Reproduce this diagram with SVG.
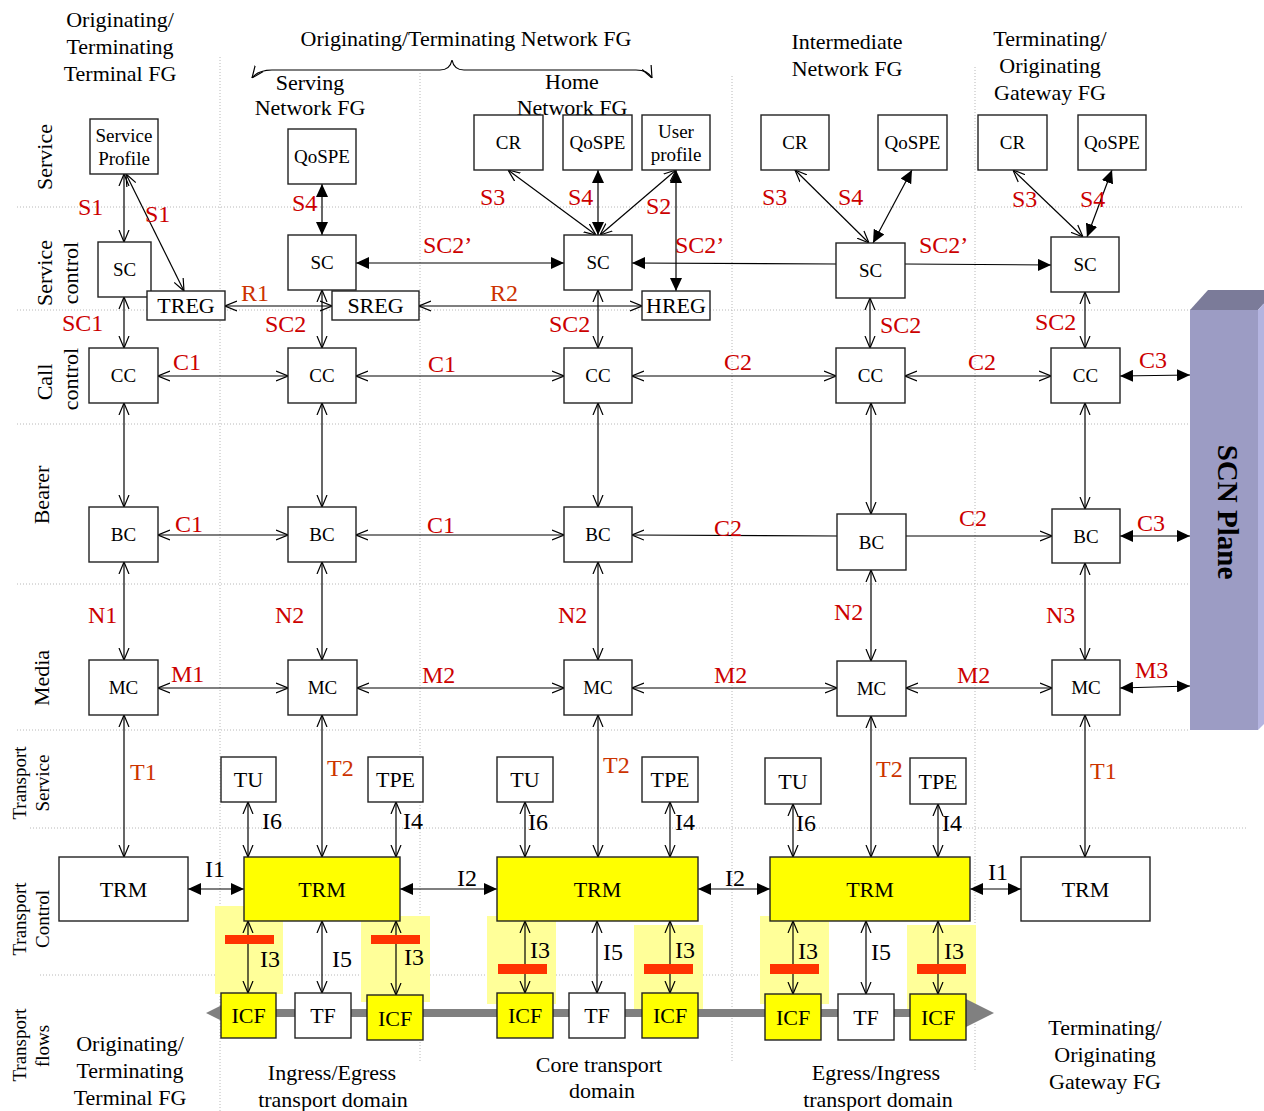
<svg xmlns="http://www.w3.org/2000/svg" width="1264" height="1111" viewBox="0 0 1264 1111">
<defs>
<marker id="o" viewBox="0 0 12 12" refX="12" refY="6" markerWidth="12" markerHeight="12" markerUnits="userSpaceOnUse" orient="auto-start-reverse"><path d="M0,1 L12,6 L0,11" fill="none" stroke="#000" stroke-width="1.2"/></marker>
<marker id="f" viewBox="0 0 13 12" refX="13" refY="6" markerWidth="13" markerHeight="12" markerUnits="userSpaceOnUse" orient="auto-start-reverse"><path d="M0,0 L13,6 L0,12 Z" fill="#000"/></marker>
</defs>
<style>
text{font-family:"Liberation Serif","Times New Roman",serif;fill:#000}
.grid line{stroke:#b8b8b8;stroke-width:1;stroke-dasharray:1,2}
.box{fill:#fff;stroke:#222;stroke-width:1.4}
.ybox{fill:#ffff00;stroke:#222;stroke-width:1.4}
.n{font-size:19px;text-anchor:middle}
.m{font-size:22px;text-anchor:middle}
.h{font-size:22px;text-anchor:middle}
.row{font-size:22px;text-anchor:middle}
.trow{font-size:19px;text-anchor:middle}
.lbl{font-size:24px;fill:#cc0000}
.org{font-size:24px;fill:#cc3300}
.il{font-size:24px}
.c line,.c path{stroke:#000;stroke-width:1.2;fill:none}
.oo{marker-start:url(#o);marker-end:url(#o)}
.ff{marker-start:url(#f);marker-end:url(#f)}
.oe{marker-end:url(#o)}
.fe{marker-end:url(#f)}
.hl{fill:#ffff99}
.rb{fill:#ff3300}
</style>
<rect width="1264" height="1111" fill="#fff"/>

<g class="grid">
<line x1="17" y1="207" x2="1243" y2="207"/>
<line x1="17" y1="310" x2="1243" y2="310"/>
<line x1="17" y1="424" x2="1190" y2="424"/>
<line x1="17" y1="584" x2="1190" y2="584"/>
<line x1="17" y1="730" x2="1190" y2="730"/>
<line x1="30" y1="828" x2="1247" y2="828"/>
<line x1="40" y1="975" x2="778" y2="975"/>
<line x1="220" y1="57" x2="220" y2="1111"/>
<line x1="420" y1="73" x2="420" y2="1062"/>
<line x1="732" y1="76" x2="732" y2="1062"/>
<line x1="975" y1="67" x2="975" y2="1072"/>
</g>

<g id="scn-plane">
<polygon points="1190,310 1208,290 1276,290 1258,310" fill="#7b7b99"/>
<polygon points="1258,310 1276,290 1276,712 1258,730" fill="#b4b4e0"/>
<rect x="1190" y="310" width="68" height="420" fill="#9c9cc4"/>
<text transform="translate(1218,512) rotate(90)" text-anchor="middle" font-size="29" font-weight="bold">SCN Plane</text>
</g>

<g id="headers">
<text class="h" x="120" y="27">Originating/</text>
<text class="h" x="120" y="54">Terminating</text>
<text class="h" x="120" y="81">Terminal FG</text>
<text class="h" x="466" y="46">Originating/Terminating Network FG</text>
<text class="h" x="310" y="90">Serving</text>
<text class="h" x="310" y="115">Network FG</text>
<text class="h" x="572" y="89">Home</text>
<text class="h" x="572" y="115">Network FG</text>
<text class="h" x="847" y="49">Intermediate</text>
<text class="h" x="847" y="76">Network FG</text>
<text class="h" x="1050" y="46">Terminating/</text>
<text class="h" x="1050" y="73">Originating</text>
<text class="h" x="1050" y="100">Gateway FG</text>
<text class="h" x="130" y="1051">Originating/</text>
<text class="h" x="130" y="1078">Terminating</text>
<text class="h" x="130" y="1105">Terminal FG</text>
<text class="h" x="332" y="1080">Ingress/Egress</text>
<text class="h" x="333" y="1107">transport domain</text>
<text class="h" x="599" y="1072">Core transport</text>
<text class="h" x="602" y="1098">domain</text>
<text class="h" x="876" y="1080">Egress/Ingress</text>
<text class="h" x="878" y="1107">transport domain</text>
<text class="h" x="1105" y="1035">Terminating/</text>
<text class="h" x="1105" y="1062">Originating</text>
<text class="h" x="1105" y="1089">Gateway FG</text>
</g>

<g id="row-labels">
<text class="row" transform="translate(52,157) rotate(-90)">Service</text>
<text class="row" transform="translate(52,273) rotate(-90)">Service</text>
<text class="row" transform="translate(78,273) rotate(-90)">control</text>
<text class="row" transform="translate(52,382) rotate(-90)">Call</text>
<text class="row" transform="translate(78,379) rotate(-90)">control</text>
<text class="row" transform="translate(49,495) rotate(-90)">Bearer</text>
<text class="row" transform="translate(49,678) rotate(-90)">Media</text>
<text class="trow" transform="translate(26,783) rotate(-90)">Transport</text>
<text class="trow" transform="translate(49,783) rotate(-90)">Service</text>
<text class="trow" transform="translate(26,919) rotate(-90)">Transport</text>
<text class="trow" transform="translate(49,919) rotate(-90)">Control</text>
<text class="trow" transform="translate(26,1045) rotate(-90)">Transport</text>
<text class="trow" transform="translate(49,1046) rotate(-90)">flows</text>
</g>

<g id="highlights">
<rect class="hl" x="215" y="906" width="68" height="88"/>
<rect class="hl" x="361" y="916" width="69" height="86"/>
<rect class="hl" x="487" y="916" width="69" height="88"/>
<rect class="hl" x="634" y="925" width="69" height="84"/>
<rect class="hl" x="760" y="916" width="69" height="88"/>
<rect class="hl" x="907" y="925" width="69" height="84"/>
</g>

<g id="transport-flow">
<rect x="226" y="1009" width="744" height="8" fill="#808080"/>
<polygon points="206,1013 234,999 234,1027" fill="#808080"/>
<polygon points="994,1013 966,999 966,1027" fill="#808080"/>
</g>

<g class="c" id="connectors">
<path class="oo" d="M252,78 Q258,70 272,70 L440,70 Q450,70 452,60 Q454,70 464,70 L636,70 Q648,70 652,78"/>
<!-- service -> service control -->
<line class="oo" x1="124" y1="174" x2="124" y2="242"/>
<line class="oo" x1="126" y1="174" x2="184" y2="291"/>
<line class="ff" x1="322" y1="184" x2="322" y2="235"/>
<line class="oo" x1="508" y1="170" x2="596" y2="235"/>
<line class="ff" x1="598" y1="170" x2="598" y2="235"/>
<line class="oo" x1="676" y1="170" x2="600" y2="235"/>
<line class="ff" x1="676" y1="170" x2="676" y2="291"/>
<line class="oo" x1="795" y1="170" x2="869" y2="243"/>
<line class="ff" x1="912" y1="170" x2="873" y2="243"/>
<line class="oo" x1="1013" y1="170" x2="1083" y2="237"/>
<line class="ff" x1="1112" y1="170" x2="1087" y2="237"/>
<!-- service control horizontal -->
<line class="ff" x1="356" y1="263" x2="564" y2="263"/>
<line class="fe" x1="836" y1="264" x2="632" y2="263"/>
<line class="fe" x1="905" y1="264" x2="1051" y2="265"/>
<line class="oo" x1="225" y1="306" x2="332" y2="306"/>
<line class="oo" x1="419" y1="306" x2="642" y2="306"/>
<!-- SC - CC -->
<line class="oo" x1="124" y1="297" x2="124" y2="348"/>
<line class="oo" x1="322" y1="290" x2="322" y2="348"/>
<line class="oo" x1="598" y1="290" x2="598" y2="348"/>
<line class="oo" x1="870" y1="298" x2="870" y2="348"/>
<line class="oo" x1="1085" y1="292" x2="1085" y2="348"/>
<!-- CC horizontal -->
<line class="oo" x1="158" y1="376" x2="288" y2="376"/>
<line class="oo" x1="356" y1="376" x2="564" y2="376"/>
<line class="oo" x1="632" y1="376" x2="836" y2="376"/>
<line class="oo" x1="905" y1="376" x2="1051" y2="376"/>
<line class="ff" x1="1120" y1="376" x2="1190" y2="375"/>
<!-- CC - BC -->
<line class="oo" x1="124" y1="403" x2="124" y2="507"/>
<line class="oo" x1="322" y1="403" x2="322" y2="507"/>
<line class="oo" x1="598" y1="403" x2="598" y2="507"/>
<line class="oo" x1="871" y1="403" x2="871" y2="514"/>
<line class="oo" x1="1085" y1="403" x2="1085" y2="509"/>
<!-- BC horizontal -->
<line class="oo" x1="158" y1="535" x2="288" y2="535"/>
<line class="oo" x1="356" y1="535" x2="564" y2="535"/>
<line class="oe" x1="837" y1="536" x2="632" y2="535"/>
<line class="oe" x1="906" y1="536" x2="1052" y2="536"/>
<line class="ff" x1="1120" y1="536" x2="1190" y2="536"/>
<!-- BC - MC -->
<line class="oo" x1="124" y1="562" x2="124" y2="660"/>
<line class="oo" x1="322" y1="562" x2="322" y2="660"/>
<line class="oo" x1="598" y1="562" x2="598" y2="660"/>
<line class="oo" x1="871" y1="570" x2="871" y2="661"/>
<line class="oo" x1="1085" y1="563" x2="1085" y2="660"/>
<!-- MC horizontal -->
<line class="oo" x1="158" y1="688" x2="288" y2="688"/>
<line class="oo" x1="357" y1="688" x2="564" y2="688"/>
<line class="oo" x1="632" y1="688" x2="837" y2="688"/>
<line class="oo" x1="906" y1="688" x2="1052" y2="688"/>
<line class="ff" x1="1120" y1="688" x2="1190" y2="686"/>
<!-- MC - TRM -->
<line class="oo" x1="124" y1="715" x2="124" y2="857"/>
<line class="oo" x1="322" y1="715" x2="322" y2="857"/>
<line class="oo" x1="598" y1="715" x2="598" y2="857"/>
<line class="oo" x1="871" y1="716" x2="871" y2="857"/>
<line class="oo" x1="1085" y1="715" x2="1085" y2="857"/>
<!-- TU/TPE - TRM -->
<line class="oo" x1="248" y1="802" x2="248" y2="857"/>
<line class="oo" x1="396" y1="802" x2="396" y2="857"/>
<line class="oo" x1="525" y1="802" x2="525" y2="857"/>
<line class="oo" x1="670" y1="802" x2="670" y2="857"/>
<line class="oo" x1="793" y1="804" x2="793" y2="857"/>
<line class="oo" x1="938" y1="804" x2="938" y2="857"/>
<!-- TRM horizontal -->
<line class="ff" x1="188" y1="889" x2="244" y2="889"/>
<line class="ff" x1="400" y1="889" x2="497" y2="889"/>
<line class="ff" x1="698" y1="889" x2="770" y2="889"/>
<line class="ff" x1="970" y1="889" x2="1021" y2="889"/>
<!-- TRM - ICF/TF -->
<line class="oo" x1="248" y1="921" x2="248" y2="993"/>
<line class="oo" x1="322" y1="921" x2="322" y2="993"/>
<line class="oo" x1="396" y1="921" x2="396" y2="995"/>
<line class="oo" x1="525" y1="921" x2="525" y2="993"/>
<line class="oo" x1="597" y1="921" x2="597" y2="993"/>
<line class="oo" x1="670" y1="921" x2="670" y2="993"/>
<line class="oo" x1="793" y1="921" x2="793" y2="994"/>
<line class="oo" x1="866" y1="921" x2="866" y2="994"/>
<line class="oo" x1="938" y1="921" x2="938" y2="994"/>
</g>

<g id="red-bars">
<rect class="rb" x="225" y="935" width="49" height="9"/>
<rect class="rb" x="371" y="935" width="49" height="9"/>
<rect class="rb" x="498" y="964" width="49" height="10"/>
<rect class="rb" x="644" y="964" width="49" height="10"/>
<rect class="rb" x="770" y="964" width="49" height="10"/>
<rect class="rb" x="917" y="964" width="49" height="10"/>
</g>

<g id="connector-labels">
<text class="lbl" x="78" y="215">S1</text>
<text class="lbl" x="145" y="222">S1</text>
<text class="lbl" x="292" y="211">S4</text>
<text class="lbl" x="480" y="205">S3</text>
<text class="lbl" x="568" y="205">S4</text>
<text class="lbl" x="646" y="214">S2</text>
<text class="lbl" x="762" y="205">S3</text>
<text class="lbl" x="838" y="205">S4</text>
<text class="lbl" x="1012" y="207">S3</text>
<text class="lbl" x="1080" y="207">S4</text>
<text class="lbl" x="423" y="253">SC2’</text>
<text class="lbl" x="675" y="253">SC2’</text>
<text class="lbl" x="919" y="253">SC2’</text>
<text class="org" x="241" y="301">R1</text>
<text class="org" x="490" y="301">R2</text>
<text class="lbl" x="62" y="331">SC1</text>
<text class="lbl" x="265" y="332">SC2</text>
<text class="lbl" x="549" y="332">SC2</text>
<text class="lbl" x="880" y="333">SC2</text>
<text class="lbl" x="1035" y="330">SC2</text>
<text class="lbl" x="173" y="370">C1</text>
<text class="lbl" x="428" y="372">C1</text>
<text class="lbl" x="724" y="370">C2</text>
<text class="lbl" x="968" y="370">C2</text>
<text class="lbl" x="1139" y="368">C3</text>
<text class="lbl" x="175" y="532">C1</text>
<text class="lbl" x="427" y="533">C1</text>
<text class="lbl" x="714" y="536">C2</text>
<text class="lbl" x="959" y="526">C2</text>
<text class="lbl" x="1137" y="531">C3</text>
<text class="lbl" x="88" y="623">N1</text>
<text class="lbl" x="275" y="623">N2</text>
<text class="lbl" x="558" y="623">N2</text>
<text class="lbl" x="834" y="620">N2</text>
<text class="lbl" x="1046" y="623">N3</text>
<text class="lbl" x="171" y="682">M1</text>
<text class="lbl" x="422" y="683">M2</text>
<text class="lbl" x="714" y="683">M2</text>
<text class="lbl" x="957" y="683">M2</text>
<text class="lbl" x="1135" y="678">M3</text>
<text class="org" x="130" y="780">T1</text>
<text class="org" x="327" y="776">T2</text>
<text class="org" x="603" y="773">T2</text>
<text class="org" x="876" y="777">T2</text>
<text class="org" x="1090" y="779">T1</text>
<text class="il" x="262" y="829">I6</text>
<text class="il" x="403" y="829">I4</text>
<text class="il" x="528" y="830">I6</text>
<text class="il" x="675" y="830">I4</text>
<text class="il" x="796" y="831">I6</text>
<text class="il" x="942" y="831">I4</text>
<text class="il" x="205" y="877">I1</text>
<text class="il" x="457" y="886">I2</text>
<text class="il" x="725" y="886">I2</text>
<text class="il" x="988" y="880">I1</text>
<text class="il" x="260" y="967">I3</text>
<text class="il" x="332" y="967">I5</text>
<text class="il" x="404" y="965">I3</text>
<text class="il" x="530" y="958">I3</text>
<text class="il" x="603" y="960">I5</text>
<text class="il" x="675" y="958">I3</text>
<text class="il" x="798" y="959">I3</text>
<text class="il" x="871" y="960">I5</text>
<text class="il" x="944" y="959">I3</text>
</g>

<g id="service-profile"><rect class="box" x="90" y="119" width="68" height="55"/><text class="n" x="124" y="142">Service</text><text class="n" x="124" y="165">Profile</text></g>
<g id="qospe-serving"><rect class="box" x="288" y="129" width="68" height="55"/><text class="n" x="322" y="163">QoSPE</text></g>
<g id="cr-home"><rect class="box" x="474" y="115" width="69" height="55"/><text class="n" x="508.5" y="149">CR</text></g>
<g id="qospe-home"><rect class="box" x="563" y="115" width="69" height="55"/><text class="n" x="597.5" y="149">QoSPE</text></g>
<g id="user-profile"><rect class="box" x="642" y="115" width="68" height="55"/><text class="n" x="676" y="138">User</text><text class="n" x="676" y="161">profile</text></g>
<g id="cr-int"><rect class="box" x="761" y="115" width="68" height="55"/><text class="n" x="795" y="149">CR</text></g>
<g id="qospe-int"><rect class="box" x="878" y="115" width="69" height="55"/><text class="n" x="912.5" y="149">QoSPE</text></g>
<g id="cr-gw"><rect class="box" x="978" y="115" width="69" height="55"/><text class="n" x="1012.5" y="149">CR</text></g>
<g id="qospe-gw"><rect class="box" x="1078" y="115" width="68" height="55"/><text class="n" x="1112" y="149">QoSPE</text></g>

<g id="sc-term"><rect class="box" x="98" y="242" width="53" height="55"/><text class="n" x="124.5" y="276">SC</text></g>
<g id="treg"><rect class="box" x="147" y="291" width="78" height="29"/><text class="m" x="186" y="313">TREG</text></g>
<g id="sc-serving"><rect class="box" x="288" y="235" width="68" height="55"/><text class="n" x="322" y="269">SC</text></g>
<g id="sreg"><rect class="box" x="332" y="291" width="87" height="29"/><text class="m" x="375.5" y="313">SREG</text></g>
<g id="sc-home"><rect class="box" x="564" y="235" width="68" height="55"/><text class="n" x="598" y="269">SC</text></g>
<g id="hreg"><rect class="box" x="642" y="291" width="68" height="29"/><text class="m" x="676" y="313">HREG</text></g>
<g id="sc-int"><rect class="box" x="836" y="243" width="69" height="55"/><text class="n" x="870.5" y="277">SC</text></g>
<g id="sc-gw"><rect class="box" x="1051" y="237" width="68" height="55"/><text class="n" x="1085" y="271">SC</text></g>

<g id="cc-term"><rect class="box" x="89" y="348" width="69" height="55"/><text class="n" x="123.5" y="382">CC</text></g>
<g id="cc-serving"><rect class="box" x="288" y="348" width="68" height="55"/><text class="n" x="322" y="382">CC</text></g>
<g id="cc-home"><rect class="box" x="564" y="348" width="68" height="55"/><text class="n" x="598" y="382">CC</text></g>
<g id="cc-int"><rect class="box" x="836" y="348" width="69" height="55"/><text class="n" x="870.5" y="382">CC</text></g>
<g id="cc-gw"><rect class="box" x="1051" y="348" width="69" height="55"/><text class="n" x="1085.5" y="382">CC</text></g>

<g id="bc-term"><rect class="box" x="89" y="507" width="69" height="55"/><text class="n" x="123.5" y="541">BC</text></g>
<g id="bc-serving"><rect class="box" x="288" y="507" width="68" height="55"/><text class="n" x="322" y="541">BC</text></g>
<g id="bc-home"><rect class="box" x="564" y="507" width="68" height="55"/><text class="n" x="598" y="541">BC</text></g>
<g id="bc-int"><rect class="box" x="837" y="514" width="69" height="56"/><text class="n" x="871.5" y="549">BC</text></g>
<g id="bc-gw"><rect class="box" x="1052" y="509" width="68" height="54"/><text class="n" x="1086" y="543">BC</text></g>

<g id="mc-term"><rect class="box" x="89" y="660" width="69" height="55"/><text class="n" x="123.5" y="694">MC</text></g>
<g id="mc-serving"><rect class="box" x="288" y="660" width="69" height="55"/><text class="n" x="322.5" y="694">MC</text></g>
<g id="mc-home"><rect class="box" x="564" y="660" width="68" height="55"/><text class="n" x="598" y="694">MC</text></g>
<g id="mc-int"><rect class="box" x="837" y="661" width="69" height="55"/><text class="n" x="871.5" y="695">MC</text></g>
<g id="mc-gw"><rect class="box" x="1052" y="660" width="68" height="55"/><text class="n" x="1086" y="694">MC</text></g>

<g id="tu-ingress"><rect class="box" x="221" y="757" width="55" height="45"/><text class="m" x="248.5" y="787">TU</text></g>
<g id="tpe-ingress"><rect class="box" x="368" y="757" width="55" height="45"/><text class="m" x="395.5" y="787">TPE</text></g>
<g id="tu-core"><rect class="box" x="497" y="757" width="56" height="45"/><text class="m" x="525" y="787">TU</text></g>
<g id="tpe-core"><rect class="box" x="642" y="757" width="56" height="45"/><text class="m" x="670" y="787">TPE</text></g>
<g id="tu-egress"><rect class="box" x="765" y="758" width="56" height="46"/><text class="m" x="793" y="789">TU</text></g>
<g id="tpe-egress"><rect class="box" x="910" y="758" width="56" height="46"/><text class="m" x="938" y="789">TPE</text></g>

<g id="trm-term"><rect class="box" x="59" y="857" width="129" height="64"/><text class="m" x="123.5" y="897">TRM</text></g>
<g id="trm-ingress"><rect class="ybox" x="244" y="857" width="156" height="64"/><text class="m" x="322" y="897">TRM</text></g>
<g id="trm-core"><rect class="ybox" x="497" y="857" width="201" height="64"/><text class="m" x="597.5" y="897">TRM</text></g>
<g id="trm-egress"><rect class="ybox" x="770" y="857" width="200" height="64"/><text class="m" x="870" y="897">TRM</text></g>
<g id="trm-gw"><rect class="box" x="1021" y="857" width="129" height="64"/><text class="m" x="1085.5" y="897">TRM</text></g>

<g id="icf-1"><rect class="ybox" x="221" y="993" width="55" height="45"/><text class="m" x="248.5" y="1023">ICF</text></g>
<g id="tf-1"><rect class="box" x="295" y="993" width="56" height="45"/><text class="m" x="323" y="1023">TF</text></g>
<g id="icf-2"><rect class="ybox" x="367" y="995" width="56" height="45"/><text class="m" x="395" y="1026">ICF</text></g>
<g id="icf-3"><rect class="ybox" x="497" y="993" width="56" height="45"/><text class="m" x="525" y="1023">ICF</text></g>
<g id="tf-2"><rect class="box" x="569" y="993" width="56" height="45"/><text class="m" x="597" y="1023">TF</text></g>
<g id="icf-4"><rect class="ybox" x="642" y="993" width="56" height="45"/><text class="m" x="670" y="1023">ICF</text></g>
<g id="icf-5"><rect class="ybox" x="765" y="994" width="56" height="46"/><text class="m" x="793" y="1025">ICF</text></g>
<g id="tf-3"><rect class="box" x="838" y="994" width="56" height="46"/><text class="m" x="866" y="1025">TF</text></g>
<g id="icf-6"><rect class="ybox" x="910" y="994" width="56" height="46"/><text class="m" x="938" y="1025">ICF</text></g>
</svg>
